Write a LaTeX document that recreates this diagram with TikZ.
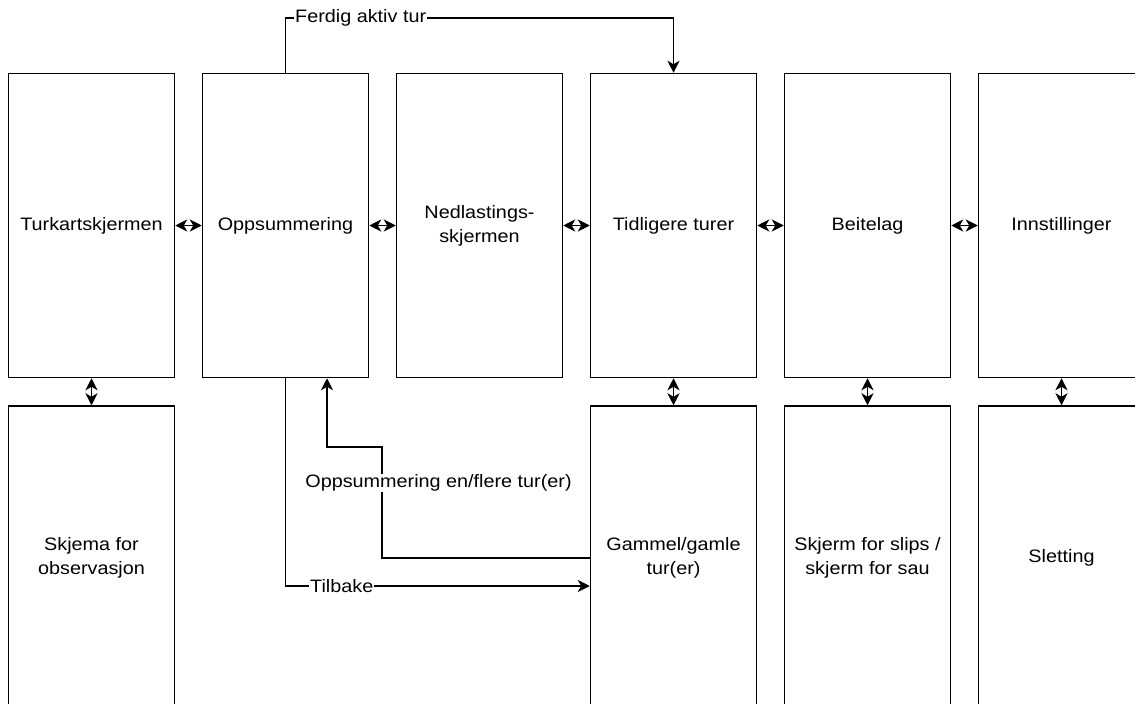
\documentclass[tikz,border=0pt]{standalone}
\usepackage{fontspec}
\setmainfont{Liberation Sans}[FakeStretch=1.1]
\usetikzlibrary{arrows.meta}

\begin{document}
\begin{tikzpicture}[x=1pt,y=-1pt,
  screen/.style={draw, line width=1.5pt, minimum width=166pt, minimum height=304pt,
    inner sep=0pt, align=center, font=\fontsize{18}{24}\selectfont},
  link/.style={line width=1.5pt},
  tipend/.style={-{Stealth[length=12pt,width=12pt,inset=3.5pt]}},
  tipboth/.style={{Stealth[length=12pt,width=12pt,inset=3.5pt]}-{Stealth[length=12pt,width=12pt,inset=3.5pt]}},
  lab/.style={fill=white, inner sep=1pt, font=\fontsize{18}{20}\selectfont}]

\useasboundingbox (0,0) rectangle (1135,704);
\clip (0,0) rectangle (1135,704);

% top row of screens
\node[screen] (t1) at (91.5,225.5) {Turkartskjermen};
\node[screen] (t2) at (285.5,225.5) {Oppsummering};
\node[screen] (t3) at (479.5,225.5) {Nedlastings-\\skjermen};
\node[screen] (t4) at (673.5,225.5) {Tidligere turer};
\node[screen] (t5) at (867.5,225.5) {Beitelag};
\node[screen] (t6) at (1061.5,225.5) {Innstillinger};

% lower row of screens
\node[screen] (b1) at (91.5,558) {Skjema for\\observasjon};
\node[screen] (b4) at (673.5,558) {Gammel/gamle\\tur(er)};
\node[screen] (b5) at (867.5,558) {Skjerm for slips /\\skjerm for sau};
\node[screen] (b6) at (1061.5,558) {Sletting};

% navigation between neighbouring screens
\foreach \a/\b in {t1/t2,t2/t3,t3/t4,t4/t5,t5/t6,t1/b1,t4/b4,t5/b5,t6/b6}
  \draw[link,tipboth] (\a) -- (\b);

% finished trip goes to previous trips
\coordinate (ftop) at (0,18);
\draw[link,tipend] (t2.north) -- (t2.north |- ftop) -- (t4.north |- ftop) -- (t4.north);
\node[lab, anchor=west] (lf) at (294,18) {Ferdig aktiv tur};

% back from summary to old trips
\coordinate (tb) at (0,586);
\draw[link,tipend] (t2.south) -- (t2.south |- tb) -- (b4.west |- tb);
\node[lab, anchor=west] (lt) at (309,586) {Tilbake};

% summary of one or more trips
\coordinate (ox) at (382,447);
\coordinate (oe) at ([xshift=41.5pt]t2.south);
\draw[link,tipend] (b4.west) -- (ox |- b4.west) -- (ox) -- (oe |- ox) -- (oe);
\node[lab] (lo) at (438.5,483) {Oppsummering en/flere tur(er)};

\end{tikzpicture}
\end{document}
